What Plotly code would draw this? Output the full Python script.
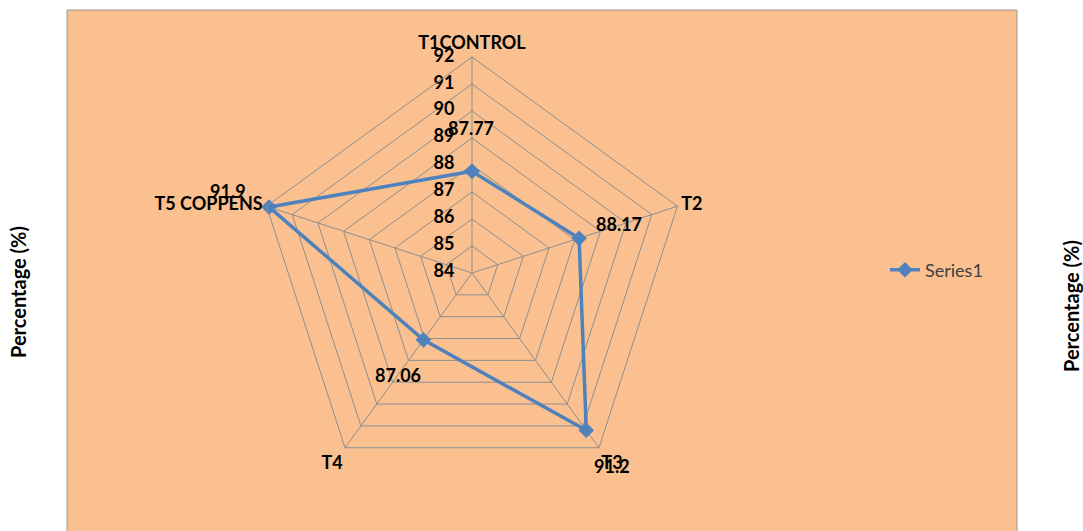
import plotly.graph_objects as go

categories = ["T1CONTROL", "T2", "T3", "T4", "T5 COPPENS"]
values = [87.77, 88.17, 91.2, 87.06, 91.9]
radial_ticks = [84, 85, 86, 87, 88, 89, 90, 91, 92]
series_name = "Series1"
axis_title = "Percentage (%)"

W, H = 1083, 531


def px_x(x):
    return x / W


def px_y(y):
    return 1 - y / H


# label placement in page pixels (layout only)
label_px = [(471, 128), (619, 224), (612, 466), (398, 375), (228, 191)]

BLUE = "#4F81BD"
PEACH = "#FAC090"
GRID = "#8E8E8E"
FONT = "Lato"
FS = 18

cx, cy, R = 472, 273, 216

bold = dict(family=FONT, size=FS, color="black", weight="bold")

fig = go.Figure()
fig.add_trace(go.Scatterpolar(
    r=values + values[:1],
    theta=categories + categories[:1],
    mode="lines+markers",
    name=series_name,
    line=dict(color=BLUE, width=3.5),
    marker=dict(symbol="diamond", size=12, color=BLUE),
))
# radial tick labels, placed by the polar scale along the first spoke
fig.add_trace(go.Scatterpolar(
    r=radial_ticks,
    theta=[categories[0]] * len(radial_ticks),
    mode="text",
    text=[f"{t}\u00a0\u00a0\u00a0\u00a0" for t in radial_ticks],
    textposition="middle left",
    textfont=bold,
    cliponaxis=False,
    showlegend=False,
    hoverinfo="skip",
))

annotations = []
for v, (px, py) in zip(values, label_px):
    annotations.append(dict(
        x=px_x(px), y=px_y(py), xref="paper", yref="paper",
        text=f"{v:g}", showarrow=False, font=bold,
        xanchor="center", yanchor="middle",
    ))
for tx, ty in [(18, 292), (1071, 306)]:
    annotations.append(dict(
        x=px_x(tx), y=px_y(ty), xref="paper", yref="paper", text=axis_title,
        textangle=-90, showarrow=False, xanchor="center", yanchor="middle",
        font=dict(family=FONT, size=20, color="black", weight="bold"),
    ))

fig.update_layout(
    width=W, height=H,
    margin=dict(l=0, r=0, t=0, b=0),
    paper_bgcolor="white",
    plot_bgcolor="white",
    shapes=[dict(type="rect", xref="paper", yref="paper",
                 x0=px_x(67), x1=px_x(1017), y0=-0.05, y1=px_y(10),
                 fillcolor=PEACH, line=dict(color="#9A9A9A", width=1),
                 layer="below")],
    polar=dict(
        domain=dict(x=[px_x(cx - R), px_x(cx + R)],
                    y=[px_y(cy + R), px_y(cy - R)]),
        bgcolor="rgba(0,0,0,0)",
        gridshape="linear",
        radialaxis=dict(
            range=[radial_ticks[0] - 1e-3, radial_ticks[-1]],
            tickvals=radial_ticks[1:],
            angle=90,
            showticklabels=False,
            showline=False,
            ticks="",
            gridcolor=GRID, gridwidth=1,
        ),
        angularaxis=dict(
            rotation=90, direction="clockwise",
            showline=True, linecolor=GRID, linewidth=1,
            gridcolor=GRID, gridwidth=1,
            ticks="",
            tickfont=bold,
        ),
    ),
    showlegend=True,
    legend=dict(
        x=px_x(885), y=px_y(270), xanchor="left", yanchor="middle",
        bgcolor="rgba(0,0,0,0)",
        font=dict(family=FONT, size=FS, color="#404040"),
    ),
    annotations=annotations,
)

fig.write_html(
    "out.html",
    config={"displayModeBar": False},
    post_script="document.body.style.margin='0px';document.body.style.overflow='hidden';",
)
